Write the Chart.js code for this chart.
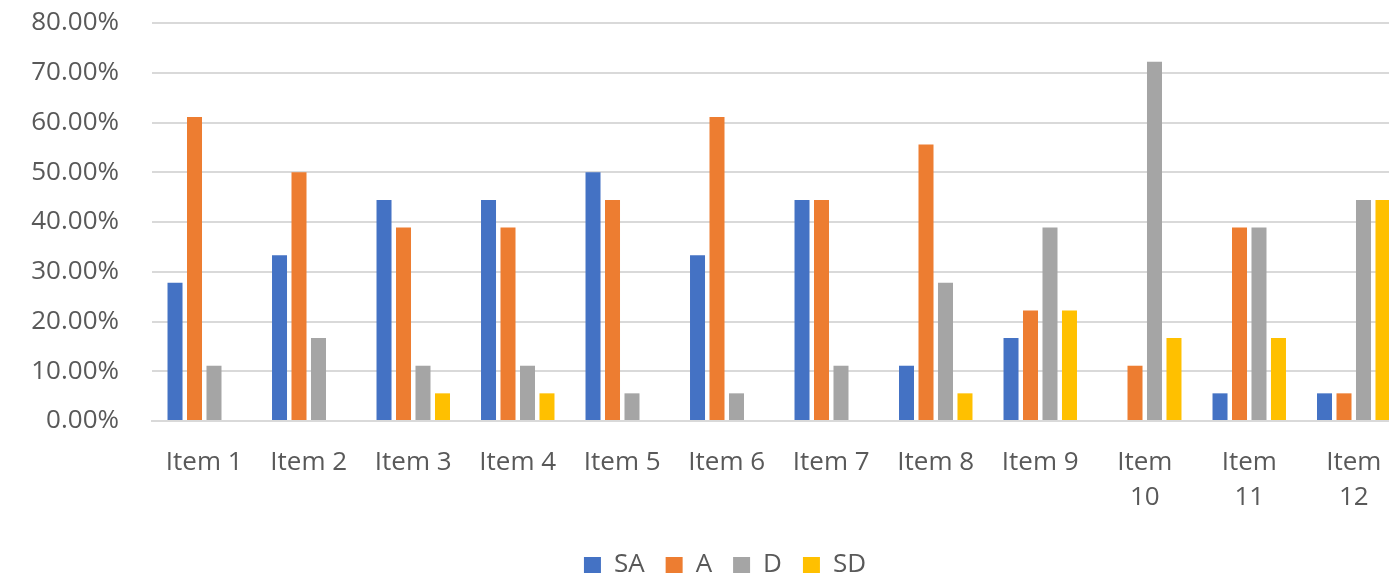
<!DOCTYPE html>
<html>
<head>
<meta charset="utf-8">
<script src="https://cdn.jsdelivr.net/npm/chart.js@4/dist/chart.umd.min.js"></script>
<style>
    html, body { margin: 0; padding: 0; background: #fff; overflow: hidden; }
    #wrap { width: 1450px; height: 577px; }
</style>
</head>
<body>
<div id="wrap"><canvas id="grafico" width="1450" height="577"></canvas></div>
<script>
const itens = ['Item 1', 'Item 2', 'Item 3', 'Item 4', 'Item 5', 'Item 6', 'Item 7', 'Item 8', 'Item 9', ['Item', '10'], ['Item', '11'], ['Item', '12']];
const valoresSA = [27.78, 33.33, 44.44, 44.44, 50.00, 33.33, 44.44, 11.11, 16.67, 0, 5.56, 5.56];
const valoresA = [61.11, 50.00, 38.89, 38.89, 44.44, 61.11, 44.44, 55.56, 22.22, 11.11, 38.89, 5.56];
const valoresD = [11.11, 16.67, 11.11, 11.11, 5.56, 5.56, 11.11, 27.78, 38.89, 72.22, 38.89, 44.44];
const valoresSD = [0, 0, 5.56, 5.56, 0, 0, 0, 5.56, 22.22, 16.67, 16.67, 44.44];
const ticksY = [0, 10, 20, 30, 40, 50, 60, 70, 80];

const cinzaTexto = '#595959';
const fonte = 'Open Sans';

const ctx = document.getElementById('grafico').getContext('2d');

// centraliza a legenda na largura toda do canvas
const legendaCentro = {
    id: 'legendaCentro',
    afterLayout: function (chart) {
        chart.legend.left = 0;
        chart.legend.right = chart.width;
    }
};

const grafico = new Chart(ctx, {
    type: 'bar',
    data: {
        labels: itens,
        datasets: [{
                label: 'SA',
                data: valoresSA,
                backgroundColor: '#4472C4'
            },
            {
                label: 'A',
                data: valoresA,
                backgroundColor: '#ED7D31'
            },
            {
                label: 'D',
                data: valoresD,
                backgroundColor: '#A5A5A5'
            },
            {
                label: 'SD',
                data: valoresSD,
                backgroundColor: '#FFC000'
            }
        ]
    },
    plugins: [legendaCentro],
    options: {
        responsive: false,
        animation: false,
        categoryPercentage: 0.746,
        barPercentage: 0.77,
        layout: {
            padding: { top: 23, left: 0, right: 44, bottom: -11 }
        },
        scales: {
            y: {
                min: 0,
                max: 80,
                afterBuildTicks: function (axis) {
                    axis.ticks = ticksY.map(v => ({ value: v }));
                },
                afterFit: function (axis) {
                    axis.width = 152;
                    axis.paddingTop = 0;
                    axis.paddingBottom = 0;
                },
                grid: {
                    color: '#d9d9d9',
                    lineWidth: 2,
                    drawTicks: false
                },
                border: {
                    display: false
                },
                ticks: {
                    color: cinzaTexto,
                    padding: 33,
                    callback: function (value) {
                        return value.toFixed(2) + '%';
                    },
                    font: {
                        size: 26,
                        family: fonte
                    }
                }
            },
            x: {
                afterFit: function (axis) {
                    axis.height = 110;
                },
                grid: {
                    display: false
                },
                border: {
                    color: '#d9d9d9',
                    width: 2
                },
                ticks: {
                    color: cinzaTexto,
                    padding: 16,
                    autoSkip: false,
                    maxRotation: 0,
                    font: {
                        size: 26,
                        family: fonte,
                        lineHeight: 1.35
                    }
                }
            }
        },
        plugins: {
            tooltip: { enabled: false },
            legend: {
                position: 'bottom',
                labels: {
                    color: cinzaTexto,
                    boxWidth: 17,
                    boxHeight: 16,
                    padding: 21,
                    font: {
                        size: 26,
                        family: fonte
                    }
                }
            }
        }
    }
});
</script>
</body>
</html>
